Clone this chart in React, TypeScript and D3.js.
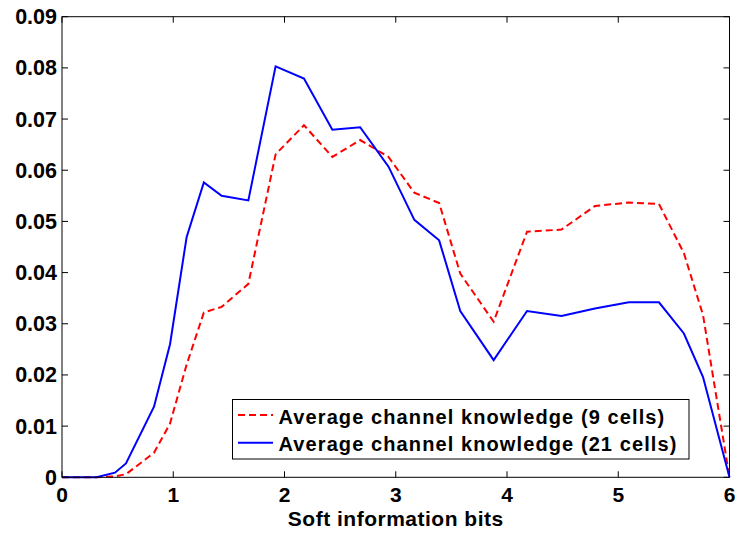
import React from "react";
import * as d3 from "d3";

const xValues = [0, 0.31, 0.476, 0.575, 0.827, 0.971, 1.12, 1.275, 1.435, 1.675, 1.92, 2.175, 2.43, 2.68, 2.935, 3.167, 3.39, 3.58, 3.88, 4.18, 4.49, 4.79, 5.095, 5.366, 5.59, 5.762, 6];
const series9 = [0, 0, 0.0002, 0.0006, 0.0048, 0.0105, 0.022, 0.0322, 0.0333, 0.0378, 0.0631, 0.0688, 0.0626, 0.0659, 0.0626, 0.0556, 0.0536, 0.0398, 0.0304, 0.048, 0.0484, 0.053, 0.0537, 0.0534, 0.0438, 0.0317, 0];
const series21 = [0, 0, 0.0009, 0.0027, 0.0138, 0.026, 0.0469, 0.0576, 0.055, 0.0541, 0.0803, 0.0779, 0.0679, 0.0684, 0.0607, 0.0503, 0.0463, 0.0325, 0.0229, 0.0325, 0.0315, 0.033, 0.0342, 0.0342, 0.0281, 0.0196, 0];
const xTicks = [0, 1, 2, 3, 4, 5, 6];
const yTicks = [0, 0.01, 0.02, 0.03, 0.04, 0.05, 0.06, 0.07, 0.08, 0.09];
const legendLabels = ["Average channel knowledge (9 cells)", "Average channel knowledge (21 cells)"];
const xTitle = "Soft information bits";

export default function App() {
  const W = 737, H = 533;
  const left = 62, right = 729.5, top = 16.7, bottom = 477.3;
  const x = d3.scaleLinear().domain([0, 6]).range([left, right]);
  const y = d3.scaleLinear().domain([0, 0.09]).range([bottom, top]);
  const line = d3.line<number>().x((_, i) => x(xValues[i])).y((d) => y(d));
  const font = "'Liberation Sans', Arial, Helvetica, sans-serif";
  const tl = 6;
  return (
    <svg width={W} height={H} style={{ position: "absolute", left: 0, top: 0, background: "#fff" }}>
      <rect x={0} y={0} width={W} height={H} fill="#fff" />
      <path d={line(series9) || ""} fill="none" stroke="#ff0000" strokeWidth={2} strokeDasharray="7,4" />
      <path d={line(series21) || ""} fill="none" stroke="#0000ff" strokeWidth={2} />
      <rect x={left} y={top} width={right - left} height={bottom - top} fill="none" stroke="#000" strokeWidth={1} />
      {xTicks.map((t) => (
        <g key={"x" + t}>
          <line x1={x(t)} x2={x(t)} y1={bottom} y2={bottom - tl} stroke="#000" />
          <line x1={x(t)} x2={x(t)} y1={top} y2={top + tl} stroke="#000" />
          <text x={x(t)} y={501.5} textAnchor="middle" fontFamily={font} fontWeight="bold" fontSize={21}>{t}</text>
        </g>
      ))}
      {yTicks.map((t) => (
        <g key={"y" + t}>
          <line x1={left} x2={left + tl} y1={y(t)} y2={y(t)} stroke="#000" />
          <line x1={right} x2={right - tl} y1={y(t)} y2={y(t)} stroke="#000" />
          <text x={57} y={y(t) + 7.5} textAnchor="end" fontFamily={font} fontWeight="bold" fontSize={21.5}>{t === 0 ? "0" : t.toFixed(2)}</text>
        </g>
      ))}
      <text x={(left + right) / 2} y={526} textAnchor="middle" fontFamily={font} fontWeight="bold" fontSize={21} letterSpacing={0.5}>{xTitle}</text>
      <g>
        <rect x={232.5} y={399.5} width={456.5} height={59.5} fill="#fff" stroke="#000" strokeWidth={1} />
        <line x1={238} x2={273} y1={415} y2={415} stroke="#ff0000" strokeWidth={2} strokeDasharray="7,4" />
        <line x1={238} x2={273} y1={442.7} y2={442.7} stroke="#0000ff" strokeWidth={2} />
        <text x={278.5} y={423.5} fontFamily={font} fontWeight="bold" fontSize={20} letterSpacing={1.1}>{legendLabels[0]}</text>
        <text x={278.5} y={451} fontFamily={font} fontWeight="bold" fontSize={20} letterSpacing={1.1}>{legendLabels[1]}</text>
      </g>
    </svg>
  );
}
